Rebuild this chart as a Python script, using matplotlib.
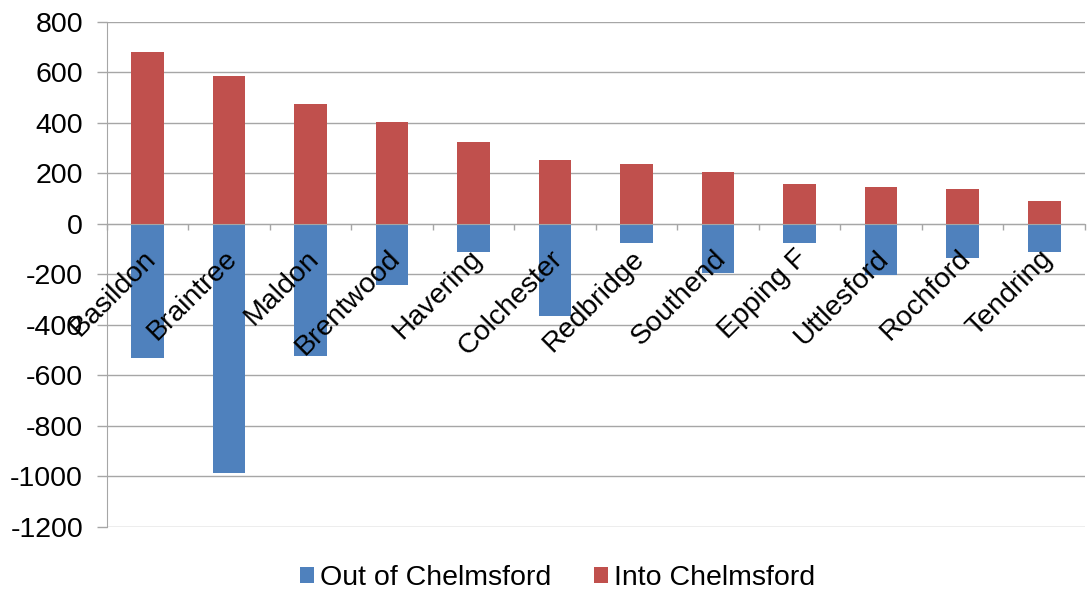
import matplotlib.pyplot as plt
import matplotlib.transforms as mtransforms
import numpy as np

plt.rcParams['font.family'] = ['Liberation Sans', 'DejaVu Sans']

# --- data ---
areas = ['Basildon', 'Braintree', 'Maldon', 'Brentwood', 'Havering', 'Colchester',
         'Redbridge', 'Southend', 'Epping F', 'Uttlesford', 'Rochford', 'Tendring']
out_of = [-532, -985, -522, -240, -112, -366, -75, -195, -75, -204, -134, -112]
into = [682, 586, 474, 405, 325, 255, 237, 204, 160, 146, 137, 93]
y_ticks = [-1200, -1000, -800, -600, -400, -200, 0, 200, 400, 600, 800]

blue = '#4F81BD'
red = '#C0504D'
grid_col = '#A6A6A6'
fs = 20.5

fig = plt.figure(figsize=(10.89, 5.91), dpi=100)
ax = fig.add_axes([0.098, 0.1083, 0.8983, 0.8545])

x = np.arange(len(areas))
ax.bar(x, out_of, width=0.4, color=blue, label='Out of Chelmsford', zorder=3)
ax.bar(x, into, width=0.4, color=red, label='Into Chelmsford', zorder=3)

ax.set_xlim(-0.5, len(areas) - 0.5)
ax.set_ylim(-1200, 800)
ax.set_yticks(y_ticks)
ax.set_yticklabels([str(v) for v in y_ticks], fontsize=fs)
ax.yaxis.grid(True, color=grid_col, linewidth=1.0)
ax.yaxis.set_zorder(0.5)
ax.tick_params(axis='y', length=7, width=1.0, color=grid_col, pad=10)

# x axis sits on zero, labels drawn over the bars
for s in ['top', 'right']:
    ax.spines[s].set_visible(False)
ax.spines['bottom'].set_position(('data', 0))
ax.spines['bottom'].set_color(grid_col)
ax.spines['left'].set_color(grid_col)
ax.spines['bottom'].set_zorder(4)
ax.spines['left'].set_zorder(0.6)
ax.xaxis.set_zorder(5)

ax.set_xticks(x)
ax.set_xticklabels(areas, fontsize=fs, rotation=45, ha='right', va='center',
                   rotation_mode='anchor')
ax.set_xticks(np.arange(len(areas) + 1) - 0.5, minor=True)
ax.tick_params(axis='x', which='major', length=0, pad=22)
ax.tick_params(axis='x', which='minor', length=4.5, width=1.0, color=grid_col)
shift = mtransforms.ScaledTranslation(0.04, 0, fig.dpi_scale_trans)
for lab in ax.get_xticklabels():
    lab.set_transform(lab.get_transform() + shift)

ax.legend(loc='center', bbox_to_anchor=(0.512, 0.022), bbox_transform=fig.transFigure,
          ncol=2, frameon=False, fontsize=fs, handlelength=0.5, handleheight=0.5,
          handletextpad=0.2, columnspacing=1.5)

fig.savefig('out.png', dpi=100)
